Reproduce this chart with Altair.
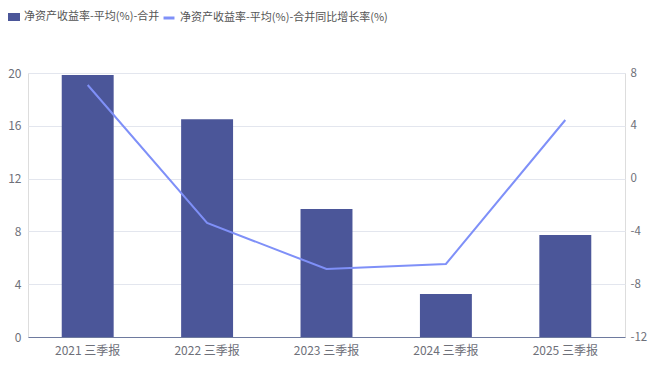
import altair as alt
import pandas as pd

periods = ["2021 三季报", "2022 三季报", "2023 三季报", "2024 三季报", "2025 三季报"]
roe = [19.85, 16.5, 9.7, 3.26, 7.73]
roe_yoy = [7.09, -3.36, -6.85, -6.47, 4.44]
name_bar = "净资产收益率-平均(%)-合并"
name_line = "净资产收益率-平均(%)-合并同比增长率(%)"

df = pd.DataFrame({"period": periods, "roe": roe, "yoy": roe_yoy,
                   "s1": [name_bar] * 5, "s2": [name_line] * 5})

FONT = "Noto Sans CJK SC"
BAR_C = "#4b5699"
LINE_C = "#7f90f8"
LABEL_C = "#6e7079"

x = alt.X("period:N", sort=periods, title=None,
          scale=alt.Scale(paddingInner=0.565, paddingOuter=0.2825),
          axis=alt.Axis(labelAngle=0, ticks=False, domainColor="#6e7a9e", domainWidth=1,
                        labelColor=LABEL_C, labelFont=FONT, labelFontSize=12, labelPadding=8,
                        grid=False))

bars = alt.Chart(df).mark_bar(color=BAR_C).encode(
    x=x,
    y=alt.Y("roe:Q", title=None,
            scale=alt.Scale(domain=[0, 20], nice=False),
            axis=alt.Axis(values=[0, 4, 8, 12, 16, 20], domain=False, ticks=False,
                          gridColor="#e3e6ee", labelColor=LABEL_C, labelFont=FONT,
                          labelFontSize=12, labelPadding=7)),
    color=alt.Color("s1:N", title=None,
                    scale=alt.Scale(domain=[name_bar], range=[BAR_C]),
                    legend=alt.Legend(orient="none", legendX=-20, legendY=-62,
                                      symbolType="M-1,-0.67L1,-0.67L1,0.67L-1,0.67Z",
                                      symbolSize=144,
                                      labelFont=FONT, labelFontSize=11, labelColor="#555",
                                      labelLimit=400, symbolStrokeWidth=0)),
)

line = alt.Chart(df).mark_line(strokeWidth=2, color=LINE_C).encode(
    x=x,
    y=alt.Y("yoy:Q", title=None,
            scale=alt.Scale(domain=[-12, 8], nice=False),
            axis=alt.Axis(orient="right", values=[-12, -8, -4, 0, 4, 8], domain=False,
                          ticks=False, grid=False, labelColor=LABEL_C, labelFont=FONT,
                          labelFontSize=11.5, labelPadding=5,
                          labelExpr="replace(datum.label, '\u2212', '-')")),
    stroke=alt.Stroke("s2:N", title=None,
                      scale=alt.Scale(domain=[name_line], range=[LINE_C]),
                      legend=alt.Legend(orient="none", legendX=134, legendY=-62,
                                        symbolType="stroke", symbolStrokeWidth=3,
                                        symbolSize=120, labelLimit=400,
                                        labelFont=FONT, labelFontSize=11, labelColor="#555")),
)

chart = alt.layer(bars, line).resolve_scale(
    y="independent", color="independent", stroke="independent"
).properties(
    width=597, height=264,
    autosize=alt.AutoSizeParams(type="none"),
    padding={"left": 20, "top": 65, "right": 25, "bottom": 20},
).configure_view(stroke=None).configure(background="white")

chart.save("out.html", embed_options={"renderer": "svg", "actions": False})
